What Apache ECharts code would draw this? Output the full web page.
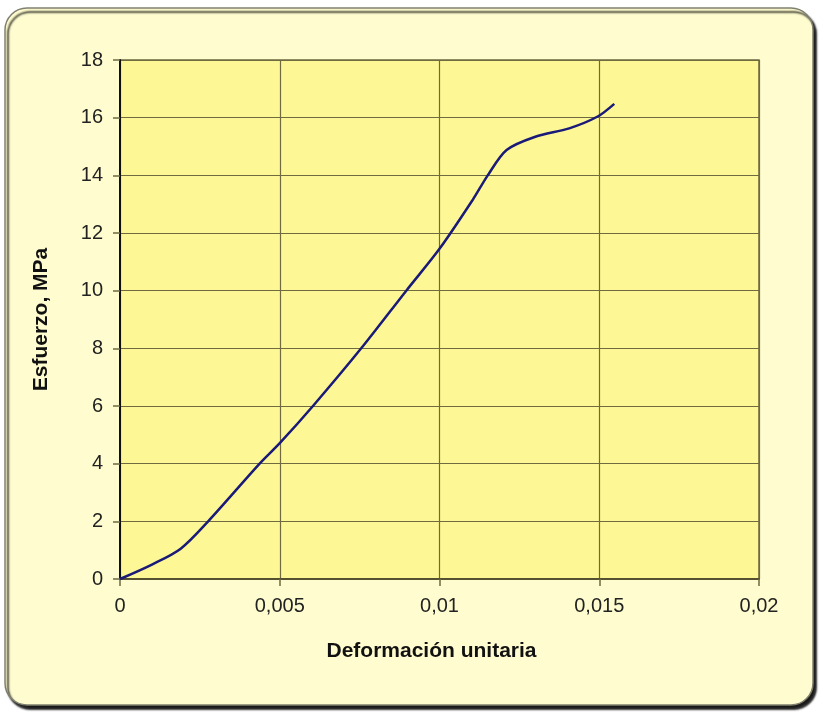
<!DOCTYPE html>
<html>
<head>
<meta charset="utf-8">
<script src="https://cdn.jsdelivr.net/npm/echarts@6/dist/echarts.min.js"></script>
<style>
  html, body { margin: 0; padding: 0; background: #ffffff; }
  #chart { width: 819px; height: 713px; }
</style>
</head>
<body>
<div id="chart"></div>
<script>
// strain (deformación unitaria) and stress (MPa)
const strain = [0, 0.001, 0.0019, 0.00276, 0.00437, 0.005, 0.00604, 0.00755, 0.00896, 0.01, 0.01104, 0.01151, 0.0121, 0.013, 0.01406, 0.01495, 0.01547];
const stress = [0, 0.5, 1.05, 2.0, 4.0, 4.71, 6.0, 8.0, 10.0, 11.45, 13.15, 14.0, 14.88, 15.34, 15.63, 16.04, 16.48];

const xTicks = { min: 0, max: 0.02, interval: 0.005 };
const yTicks = { min: 0, max: 18, interval: 2 };

const chart = echarts.init(document.getElementById('chart'));
const font = 'Liberation Sans, Arial, sans-serif';

chart.setOption({
  animation: false,
  graphic: [{
    type: 'rect',
    z: -10,
    shape: { x: 5, y: 8, width: 808, height: 697, r: 22 },
    style: {
      fill: '#fffdcf',
      stroke: '#808070',
      lineWidth: 1.5,
      shadowColor: 'rgba(0,0,0,0.9)',
      shadowBlur: 2,
      shadowOffsetX: 3,
      shadowOffsetY: 4
    }
  }],
  grid: {
    left: 120, top: 60, width: 639, height: 519,
    show: true,
    backgroundColor: '#fdf895',
    borderColor: '#6f6a40',
    borderWidth: 1.5
  },
  xAxis: {
    type: 'value',
    min: xTicks.min, max: xTicks.max, interval: xTicks.interval,
    name: 'Deformación unitaria',
    nameLocation: 'middle',
    nameGap: 62,
    nameTextStyle: { fontFamily: font, fontSize: 21, fontWeight: 'bold', color: '#111', padding: [0, 16, 0, 0] },
    axisLine: { show: true, onZero: false, lineStyle: { color: '#555030', width: 2 } },
    axisTick: { show: true, length: 7, lineStyle: { color: '#6f6a40', width: 1.5 } },
    axisLabel: {
      fontFamily: font, fontSize: 20, color: '#222', margin: 17,
      formatter: v => String(v).replace('.', ',')
    },
    splitLine: { show: true, lineStyle: { color: '#6f6a40', width: 1.2 } }
  },
  yAxis: {
    type: 'value',
    min: yTicks.min, max: yTicks.max, interval: yTicks.interval,
    name: 'Esfuerzo, MPa',
    nameLocation: 'middle',
    nameGap: 68,
    nameRotate: 90,
    nameTextStyle: { fontFamily: font, fontSize: 21, fontWeight: 'bold', color: '#111' },
    axisLine: { show: true, onZero: false, lineStyle: { color: '#111', width: 2 } },
    axisTick: { show: true, length: 7, lineStyle: { color: '#6f6a40', width: 1.5 } },
    axisLabel: { fontFamily: font, fontSize: 20, color: '#222', margin: 17 },
    splitLine: { show: true, lineStyle: { color: '#6f6a40', width: 1.2 } }
  },
  series: [{
    type: 'line',
    data: strain.map((x, i) => [x, stress[i]]),
    smooth: 0.3,
    showSymbol: false,
    lineStyle: { color: '#1a1a78', width: 2.5 }
  }]
});
</script>
</body>
</html>
